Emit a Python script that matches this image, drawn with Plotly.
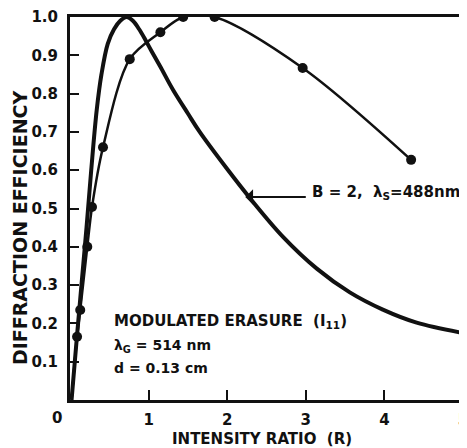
import plotly.graph_objects as go

# B = 2 curve (smooth, no markers)
curve_x = [0.02, 0.09, 0.15, 0.21, 0.27, 0.34, 0.40, 0.48, 0.56, 0.64, 0.72, 0.80, 0.88, 0.96,
           1.04, 1.15, 1.31, 1.50, 1.65, 2.00, 2.29, 2.71, 3.14, 3.56, 3.98, 4.41, 5.00]
curve_y = [0.0, 0.17, 0.31, 0.45, 0.60, 0.757, 0.85, 0.93, 0.968, 0.99, 1.0, 0.99, 0.968, 0.94,
           0.91, 0.870, 0.81, 0.748, 0.70, 0.603, 0.527, 0.426, 0.343, 0.281, 0.236, 0.202, 0.175]

# Measured points (modulated erasure)
meas_x = [0.02, 0.09, 0.13, 0.22, 0.28, 0.42, 0.76, 1.15, 1.44, 1.84, 2.96, 4.34]
meas_y = [0.0, 0.165, 0.235, 0.40, 0.504, 0.66, 0.89, 0.96, 1.0, 1.0, 0.867, 0.627]
meas_size = [0, 10, 10, 10, 10, 10, 10, 10, 10, 10, 10, 10]

x_ticks = [1, 2, 3, 4, 5]
x_ticktext = ["1", "2", "3", "4", "5"]
y_ticks = [0.1, 0.2, 0.3, 0.4, 0.5, 0.6, 0.7, 0.8, 0.9, 1.0]
y_ticktext = ["0.1", "0.2", "0.3", "0.4", "0.5", "0.6", "0.7", "0.8", "0.9", "1.0"]

FONT = "DejaVu Sans"
INK = "#111111"

fig = go.Figure()
fig.add_trace(go.Scatter(
    x=curve_x, y=curve_y, mode="lines",
    line=dict(color=INK, width=4, shape="spline", smoothing=1.0),
    showlegend=False, hoverinfo="skip"))
fig.add_trace(go.Scatter(
    x=meas_x, y=meas_y, mode="lines+markers",
    line=dict(color=INK, width=2.5, shape="spline", smoothing=0.9),
    marker=dict(color=INK, size=meas_size, line=dict(width=0), opacity=1),
    showlegend=False, hoverinfo="skip"))

anns = []
# origin "0"
anns.append(dict(x=0, y=0, xref="x", yref="paper", text="0", showarrow=False,
                 xshift=-13, yshift=-18, xanchor="center", yanchor="middle",
                 font=dict(family=FONT, size=15, color=INK, weight="bold")))
# axis titles
anns.append(dict(x=-0.127, y=0.449, xref="paper", yref="paper", text="DIFFRACTION EFFICIENCY",
                 showarrow=False, textangle=-90, xanchor="center", yanchor="middle",
                 font=dict(family=FONT, size=19, color=INK, weight="bold")))
anns.append(dict(x=0.488, y=0, xref="paper", yref="paper", text="INTENSITY RATIO  (R)",
                 showarrow=False, yshift=-39, xanchor="center", yanchor="middle",
                 font=dict(family=FONT, size=15, color=INK, weight="bold")))
# text block
anns.append(dict(x=0.53, y=0.206, xref="x", yref="y", text="MODULATED ERASURE  (I<sub>11</sub>)",
                 showarrow=False, xanchor="left", yanchor="middle",
                 font=dict(family=FONT, size=15, color=INK, weight="bold")))
anns.append(dict(x=0.53, y=0.142, xref="x", yref="y", text="λ<sub>G</sub> = 514 nm",
                 showarrow=False, xanchor="left", yanchor="middle",
                 font=dict(family=FONT, size=14, color=INK, weight="bold")))
anns.append(dict(x=0.53, y=0.084, xref="x", yref="y", text="d = 0.13 cm",
                 showarrow=False, xanchor="left", yanchor="middle",
                 font=dict(family=FONT, size=14, color=INK, weight="bold")))
# curve label with arrow
anns.append(dict(x=3.05, y=0.543, xref="x", yref="y", text="B = 2,  λ<sub>S</sub>=488nm",
                 showarrow=False, xanchor="left", yanchor="middle",
                 font=dict(family=FONT, size=15, color=INK, weight="bold")))
anns.append(dict(x=2.23, y=0.53, xref="x", yref="y", text="", showarrow=True,
                 ax=62, ay=0, axref="pixel", ayref="pixel",
                 arrowhead=1, arrowsize=1.3, arrowwidth=2, arrowcolor=INK))

# page body has an 8px default margin; figure is offset by 8px in the window
fig.update_layout(
    width=467, height=440,
    margin=dict(l=62, r=12, t=9, b=48, autoexpand=False),
    paper_bgcolor="white", plot_bgcolor="white",
    annotations=anns,
    xaxis=dict(range=[0, 5], tickvals=x_ticks, ticktext=x_ticktext, automargin=False,
               ticks="inside", ticklen=10, tickwidth=2, tickcolor=INK,
               showline=True, linewidth=3, linecolor=INK, mirror=True,
               showgrid=False, zeroline=False, ticklabelstandoff=4,
               ticklabeloverflow="allow",
               tickfont=dict(family=FONT, size=15, color=INK, weight="bold")),
    yaxis=dict(range=[0, 1.0], tickvals=y_ticks, ticktext=y_ticktext, automargin=False,
               ticks="inside", ticklen=9, tickwidth=2, tickcolor=INK,
               showline=True, linewidth=3, linecolor=INK, mirror=True,
               showgrid=False, zeroline=False, ticklabelstandoff=6,
               tickfont=dict(family=FONT, size=15, color=INK, weight="bold")),
)

fig.write_html("out.html")
